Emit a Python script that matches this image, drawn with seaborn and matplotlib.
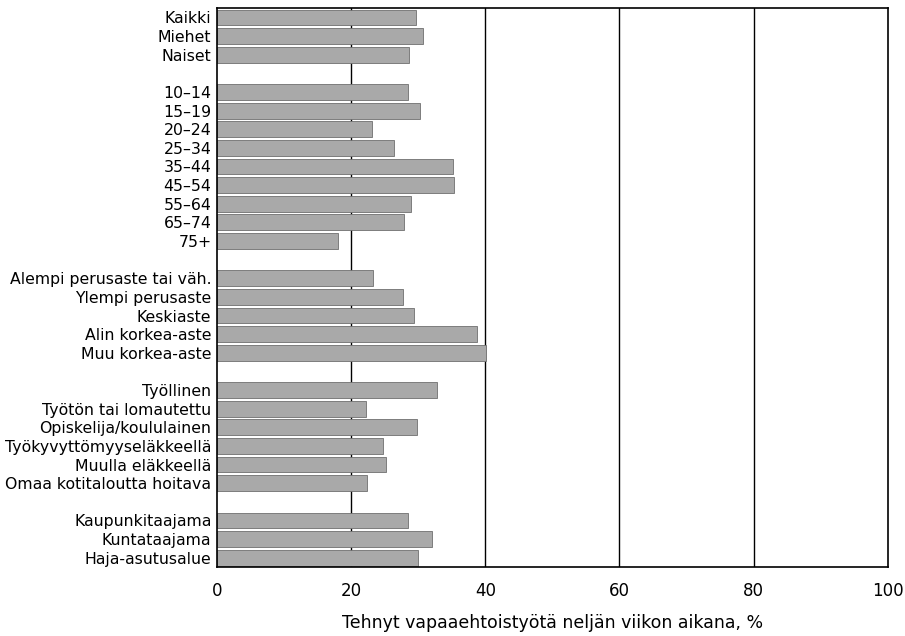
import matplotlib
matplotlib.use('Agg')
import matplotlib.pyplot as plt
import pandas as pd
import seaborn as sns

# values, % who did voluntary work in the last four weeks
gender_labels = ['Kaikki', 'Miehet', 'Naiset']
gender_values = [29.6, 30.7, 28.6]

age_labels = ['10–14', '15–19', '20–24', '25–34', '35–44', '45–54', '55–64', '65–74', '75+']
age_values = [28.5, 30.2, 23.1, 26.4, 35.2, 35.3, 28.9, 27.9, 18.0]

edu_labels = ['Alempi perusaste tai väh.', 'Ylempi perusaste', 'Keskiaste',
              'Alin korkea-aste', 'Muu korkea-aste']
edu_values = [23.3, 27.8, 29.3, 38.7, 40.1]

status_labels = ['Työllinen', 'Työtön tai lomautettu', 'Opiskelija/koululainen',
                 'Työkyvyttömyyseläkkeellä', 'Muulla eläkkeellä', 'Omaa kotitaloutta hoitava']
status_values = [32.8, 22.2, 29.8, 24.7, 25.2, 22.4]

area_labels = ['Kaupunkitaajama', 'Kuntataajama', 'Haja-asutusalue']
area_values = [28.4, 32.0, 29.9]

x_ticks = [0, 20, 40, 60, 80, 100]
x_title = 'Tehnyt vapaaehtoistyötä neljän viikon aikana, %'

groups = [(gender_labels, gender_values), (age_labels, age_values),
          (edu_labels, edu_values), (status_labels, status_values),
          (area_labels, area_values)]

# build the table plus an order with blank spacer rows between groups
rows = []
order = []
for i, (labs, vals) in enumerate(groups):
    if i > 0:
        order.append(' ' * i)
    for lab, val in zip(labs, vals):
        rows.append({'Ryhmä': lab, 'Osuus': val})
        order.append(lab)
df = pd.DataFrame(rows)

sns.set_style('white')
plt.rcParams['font.family'] = ['Liberation Sans Narrow', 'DejaVu Sans']
plt.rcParams['text.color'] = 'black'
plt.rcParams['xtick.color'] = 'black'
plt.rcParams['ytick.color'] = 'black'
plt.rcParams['axes.labelcolor'] = 'black'

fig = plt.figure(figsize=(9.05, 6.36), dpi=100)
ax = fig.add_axes([0.2398, 0.1085, 0.7412, 0.8787])

for t in x_ticks[1:-1]:
    ax.axvline(t, color='black', lw=1.0, zorder=0)

sns.barplot(data=df, x='Osuus', y='Ryhmä', order=order, orient='h',
            color='#a9a9a9', saturation=1, width=0.85,
            edgecolor='#6f6f6f', linewidth=0.6, ax=ax, zorder=2)

ax.set_xlim(0, 100)
ax.set_ylim(len(order) - 0.5, -0.5)
ax.set_xticks(x_ticks)
ax.tick_params(axis='x', length=0, pad=11, labelsize=12)
ax.tick_params(axis='y', length=0, pad=4, labelsize=11.3)
ax.set_xlabel(x_title, fontsize=12.5, labelpad=10)
ax.set_ylabel('')
for s in ax.spines.values():
    s.set_color('black')
    s.set_linewidth(1.2)

fig.savefig('out.png', dpi=100)
